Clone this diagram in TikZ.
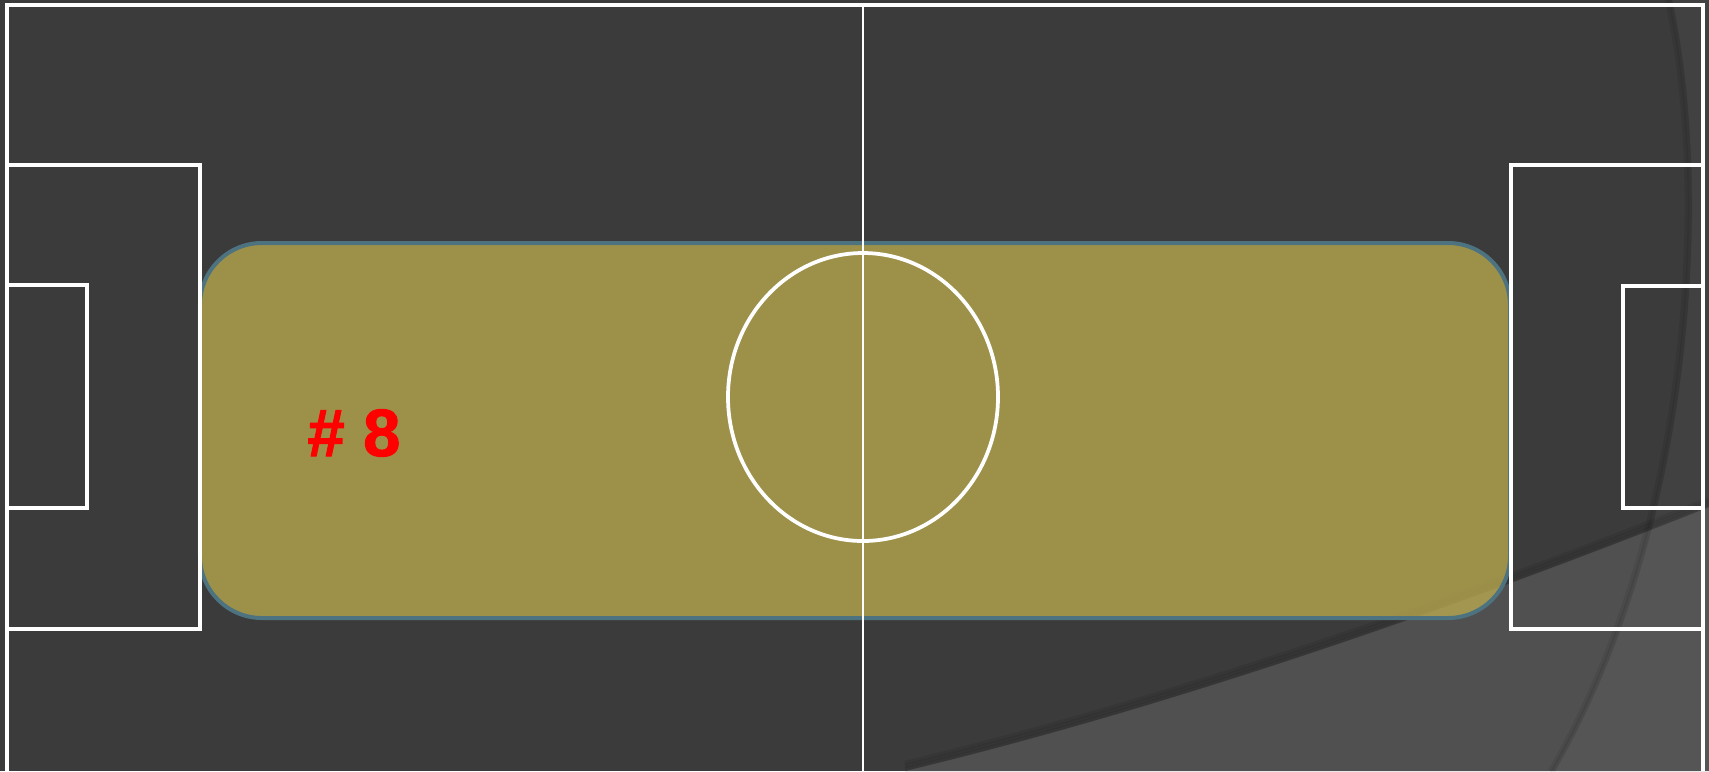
\documentclass[tikz,border=0pt]{standalone}
\usepackage{fontspec}
\newfontfamily\numfont[BoldFeatures={FakeBold=1.6}]{Liberation Sans}
\usepackage{tikz}
\usetikzlibrary{positioning}
\definecolor{cPitch}{RGB}{59,59,59}
\definecolor{cFlow}{RGB}{80,80,80}
\definecolor{cZone}{RGB}{191,174,80}
\definecolor{cZoneEdge}{RGB}{78,115,128}
\definecolor{cTag}{RGB}{255,0,0}
\tikzset{
	pitchline/.style={draw=white, line width=0.75mm},
	halfway/.style  ={draw=white, line width=0.4mm},
	zone/.style     ={rectangle, rounded corners=12.4mm, draw=cZoneEdge, line width=0.8mm, fill=cZone, fill opacity=0.75, minimum width=262mm, minimum height=75mm, inner sep=0pt},
	tag/.style      ={text=cTag, font=\numfont\bfseries\fontsize{38}{40}\selectfont, inner sep=0pt},
	softshade/.style={black, opacity=0.07, line width=0.9mm},
}
\begin{document}
\begin{tikzpicture}[x=0.2mm, y=-0.2mm]
	\fill[cPitch] (0,0) rectangle (1709,771);
	\useasboundingbox (0,0) rectangle (1709,771);
	\fill[cFlow] (905,771) .. controls (1200,700) and (1500,590) .. (1709,507) -- (1709,771) -- cycle;
	\foreach \s in {-2,-5,-8}
		\draw[softshade, shift={(0,\s)}] (905,771) .. controls (1200,700) and (1500,590) .. (1709,507);
	\fill[white, opacity=0.03] (1672,0) .. controls (1712,180) and (1700,520) .. (1555,771) -- (1709,771) -- (1709,0) -- cycle;
	\foreach \s in {-2,-5}
		\draw[softshade, shift={(\s,0)}] (1672,0) .. controls (1712,180) and (1700,520) .. (1555,771);
	\node[zone] (midzone) at (855,430.5) {};
	\draw[pitchline] (7,771) -- (7,5) -- (1703,5) -- (1703,771);
	\draw[pitchline] (7,165) -- (200,165) -- (200,629) -- (7,629);
	\draw[pitchline] (7,285) -- (87,285) -- (87,508) -- (7,508);
	\draw[pitchline] (1703,165) -- (1511,165) -- (1511,629) -- (1703,629);
	\draw[pitchline] (1703,286) -- (1623,286) -- (1623,508) -- (1703,508);
	\draw[halfway] (863,5) -- (863,771);
	\draw[pitchline] (863,397) ellipse [x radius=27mm, y radius=28.8mm];
	\node[tag] (player) at (354,433) {\# 8};
\end{tikzpicture}
\end{document}
